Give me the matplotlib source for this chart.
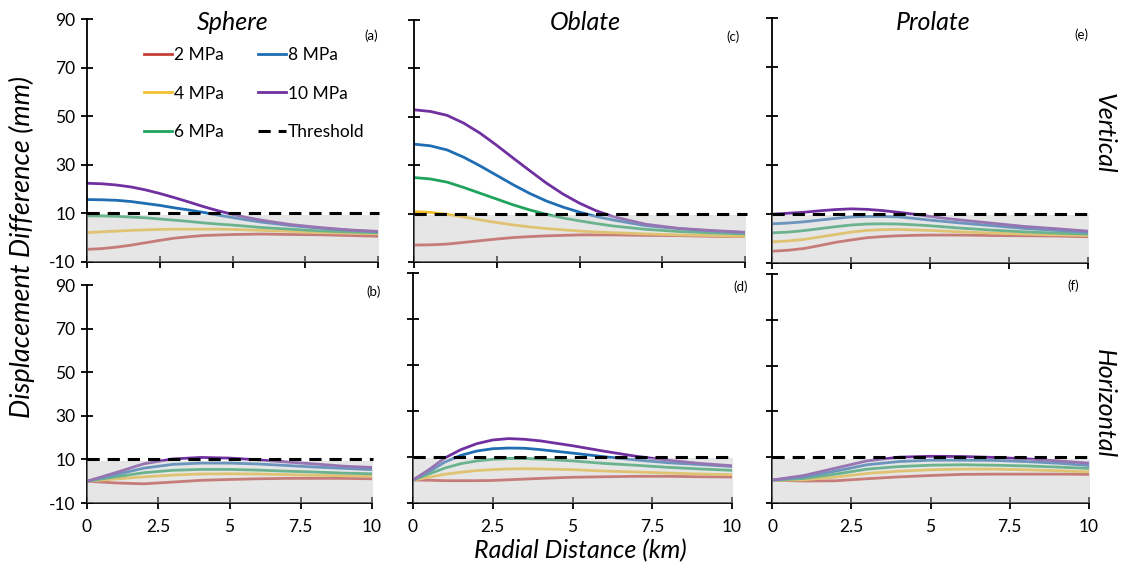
import matplotlib
matplotlib.use("Agg")
import matplotlib.pyplot as plt
from matplotlib.lines import Line2D

plt.rcParams['font.family'] = ['Lato', 'DejaVu Sans']

# ---------------- data ----------------
pressures = ['2 MPa', '4 MPa', '6 MPa', '8 MPa', '10 MPa']
colors = ['#C63E38', '#F2C02E', '#20A35F', '#1F6DB3', '#7030A0']
threshold = 10
xticks = [0, 2.5, 5, 7.5, 10]
xtick_labels = ['0', '2.5', '5', '7.5', '10']
yticks = [-10, 10, 30, 50, 70, 90]
ytick_labels = ['-10', '10', '30', '50', '70', '90']

x_top = [0, 0.5, 1, 1.5, 2, 2.5, 3, 3.5, 4, 4.5, 5, 5.5, 6, 7, 8, 9, 10]
x_km = [0, 1, 2, 3, 4, 5, 6, 7, 8, 9, 10]
x_km_fine = [0, 0.5, 1, 1.5, 2, 2.5, 3, 3.5, 4, 5, 6, 7, 8, 9, 10]

# (a) Sphere - vertical (on x_top), order: 2,4,6,8,10 MPa
sphere_vert = [
    [-4.8, -4.5, -3.9, -3.1, -2.1, -1.1, -0.2, 0.4, 0.9, 1.1, 1.3, 1.4, 1.5, 1.3, 1.2, 0.9, 0.6],
    [2.1, 2.4, 2.7, 3.0, 3.2, 3.4, 3.5, 3.5, 3.5, 3.5, 3.4, 3.2, 3.0, 2.6, 2.1, 1.9, 1.6],
    [9.0, 8.95, 8.8, 8.5, 8.2, 7.7, 7.2, 6.7, 6.1, 5.6, 5.2, 4.7, 4.2, 3.5, 2.8, 2.4, 2.0],
    [15.7, 15.6, 15.4, 14.9, 14.1, 13.3, 12.3, 11.4, 10.4, 9.3, 8.3, 7.3, 6.4, 5.0, 3.9, 3.1, 2.4],
    [22.4, 22.2, 21.7, 20.9, 19.7, 18.2, 16.5, 14.7, 12.8, 11.1, 9.6, 8.3, 7.2, 5.4, 4.2, 3.2, 2.6],
]
# (c) Oblate - vertical (on x_top)
oblate_vert = [
    [-3.0, -2.9, -2.6, -1.9, -1.2, -0.5, 0.1, 0.5, 0.8, 1.0, 1.2, 1.2, 1.2, 1.0, 0.9, 0.6, 0.5],
    [10.8, 10.5, 9.7, 8.6, 7.4, 6.3, 5.3, 4.5, 3.8, 3.3, 2.8, 2.4, 2.1, 1.6, 1.2, 0.9, 0.6],
    [24.9, 24.3, 23.0, 20.8, 18.4, 16.0, 13.6, 11.5, 9.7, 8.2, 7.0, 5.9, 4.9, 3.5, 2.6, 2.0, 1.6],
    [38.7, 38.0, 36.3, 33.3, 29.7, 25.8, 21.9, 18.3, 15.2, 12.7, 10.6, 8.8, 7.4, 5.0, 3.8, 2.8, 2.1],
    [52.9, 52.2, 50.6, 47.4, 43.2, 38.2, 32.9, 27.7, 22.6, 18.1, 14.3, 11.2, 8.8, 5.6, 3.9, 3.0, 2.3],
]
# (e) Prolate - vertical (on x_top)
prolate_vert = [
    [-5.2, -4.8, -4.1, -2.9, -1.6, -0.6, 0.3, 0.8, 1.1, 1.3, 1.4, 1.4, 1.4, 1.2, 1.1, 1.0, 0.7],
    [-1.4, -1.0, -0.4, 0.6, 1.6, 2.6, 3.3, 3.6, 3.7, 3.5, 3.3, 3.0, 2.7, 2.2, 1.8, 1.5, 1.2],
    [2.3, 2.6, 3.2, 4.0, 4.8, 5.5, 5.9, 6.0, 5.9, 5.6, 5.2, 4.7, 4.2, 3.4, 2.7, 2.2, 1.8],
    [6.0, 6.3, 6.8, 7.5, 8.2, 8.8, 9.0, 9.0, 8.8, 8.2, 7.5, 6.9, 6.3, 5.2, 4.1, 3.3, 2.5],
    [9.9, 10.3, 10.7, 11.3, 11.8, 12.1, 11.9, 11.4, 10.7, 9.9, 9.0, 8.2, 7.5, 6.2, 4.9, 4.0, 3.0],
]
# (b) Sphere - horizontal (on x_km)
sphere_horiz = [
    [0, -0.8, -1.2, -0.4, 0.4, 0.8, 1.1, 1.3, 1.3, 1.3, 1.1],
    [0, 1.0, 2.0, 2.8, 3.3, 3.4, 3.3, 3.0, 2.7, 2.5, 2.3],
    [0, 2.0, 3.9, 5.0, 5.4, 5.4, 5.1, 4.6, 4.2, 3.7, 3.4],
    [0, 3.0, 6.0, 7.7, 8.3, 8.3, 7.9, 7.2, 6.5, 5.9, 5.3],
    [0, 3.9, 8.0, 10.2, 10.9, 10.6, 9.8, 8.8, 7.9, 6.9, 6.3],
]
# (d) Oblate - horizontal (on x_km_fine)
oblate_horiz = [
    [0, -0.1, -0.3, -0.3, -0.3, -0.2, 0.1, 0.4, 0.7, 1.2, 1.4, 1.6, 1.6, 1.4, 1.3],
    [0, 1.2, 2.5, 3.4, 4.1, 4.5, 4.8, 4.9, 4.8, 4.5, 3.9, 3.5, 3.0, 2.6, 2.3],
    [0, 2.6, 5.2, 7.1, 8.3, 9.0, 9.3, 9.3, 9.1, 8.3, 7.2, 6.4, 5.5, 4.8, 4.2],
    [0, 3.6, 7.8, 10.7, 12.6, 13.6, 13.9, 13.8, 13.2, 11.7, 10.1, 8.7, 7.5, 6.7, 5.9],
    [0, 4.5, 9.6, 13.2, 15.8, 17.4, 18.0, 17.7, 17.0, 14.9, 12.5, 10.3, 8.6, 7.2, 6.2],
]
# (f) Prolate - horizontal (on x_km)
prolate_horiz = [
    [0, -0.4, -0.3, 0.6, 1.4, 2.0, 2.5, 2.6, 2.6, 2.6, 2.5],
    [0, 0.1, 1.3, 2.9, 3.9, 4.5, 4.8, 4.8, 4.5, 4.1, 3.6],
    [0, 0.7, 2.6, 4.8, 5.9, 6.5, 6.7, 6.5, 6.2, 5.7, 5.1],
    [0, 1.4, 3.9, 6.7, 8.1, 8.7, 8.7, 8.6, 8.1, 7.4, 6.4],
    [0, 2.0, 5.2, 8.4, 10.0, 10.4, 10.3, 9.9, 9.3, 8.4, 7.4],
]

# ---------------- figure ----------------
W, H = 1122, 567
fig = plt.figure(figsize=(W / 100, H / 100), dpi=100)


def px_axes(x0, x1, y0, y1):
    return fig.add_axes([x0 / W, 1 - y1 / H, (x1 - x0) / W, (y1 - y0) / H])


panels = [
    # (x0, x1, ytop, ybot), x, data, label, label pos, show_ylabels, show_xlabels
    ((87, 378, 19, 262), x_top, sphere_vert, '(a)', (10.0, 83), True, False),
    ((414, 745, 20, 262), x_top, oblate_vert, '(c)', (9.85, 83), False, False),
    ((772, 1088, 18, 263), x_top, prolate_vert, '(e)', (10.0, 83), False, False),
    ((87, 372, 285, 503), x_km, sphere_horiz, '(b)', (10.3, 87), True, True),
    ((413, 732, 273, 503), x_km_fine, oblate_horiz, '(d)', (10.5, 84), False, True),
    ((772, 1089, 274, 503), x_km, prolate_horiz, '(f)', (9.7, 85), False, True),
]

axes = []
for (box, xs, data, lab, lpos, showy, showx) in panels:
    ax = px_axes(box[0], box[1], box[2], box[3])
    axes.append(ax)
    for ys, c in zip(data, colors):
        ax.plot(xs, ys, color=c, lw=2.0, zorder=2, solid_capstyle='round')
    ax.fill_between([0, 10.05], -10, 9.4, color='#c8c8c8', alpha=0.45,
                    lw=0, zorder=3)
    ax.plot([0, 10.05], [threshold, threshold], color='black', lw=2.2,
            dashes=(4, 2.6), zorder=4, clip_on=False)
    ax.set_xlim(0, 10)
    ax.set_ylim(-10, 90)
    for s in ['top', 'right']:
        ax.spines[s].set_visible(False)
    for s in ['left', 'bottom']:
        ax.spines[s].set_linewidth(1.3)
    ax.set_xticks(xticks)
    ax.set_yticks(yticks)
    ax.tick_params(direction='inout', length=9, width=1.3, labelsize=12.5,
                   pad=4)
    if showy:
        ax.set_yticklabels(ytick_labels)
    else:
        ax.set_yticklabels([])
    if showx:
        ax.set_xticklabels(xtick_labels)
        ax.tick_params(axis='x', pad=7)
    else:
        ax.set_xticklabels([])
    ax.text(lpos[0], lpos[1], lab, fontsize=9.5, ha='right', va='center',
            clip_on=False)
    ax.set_facecolor('none')

# titles
title_kw = dict(fontsize=18, style='italic', ha='center', va='center')
fig.text(233 / W, 1 - 22 / H, 'Sphere', **title_kw)
fig.text(585 / W, 1 - 22 / H, 'Oblate', **title_kw)
fig.text(933 / W, 1 - 22 / H, 'Prolate', **title_kw)
fig.text(1104 / W, 1 - 133 / H, 'Vertical', rotation=270, **title_kw)
fig.text(1104 / W, 1 - 404 / H, 'Horizontal', rotation=270, **title_kw)
fig.text(22 / W, 1 - 247 / H, 'Displacement Difference (mm)', rotation=90,
         fontsize=19.5, style='italic', ha='center', va='center')
fig.text(580 / W, 1 - 551 / H, 'Radial Distance (km)', **title_kw)

# legend
handles = [Line2D([], [], color=c, lw=2.0) for c in colors]
handles.append(Line2D([], [], color='black', lw=2.2, dashes=(4, 2.6)))
labels = pressures + ['Threshold']
leg = axes[0].legend(handles, labels,
                     ncol=2, loc='upper left',
                     bbox_to_anchor=(144 / W, 1 - 47 / H),
                     bbox_transform=fig.transFigure, frameon=False,
                     fontsize=12.5, handlelength=1.6, handletextpad=0.1,
                     columnspacing=2.0, labelspacing=1.3, borderpad=0,
                     borderaxespad=0)

fig.savefig('out.png', dpi=100)
